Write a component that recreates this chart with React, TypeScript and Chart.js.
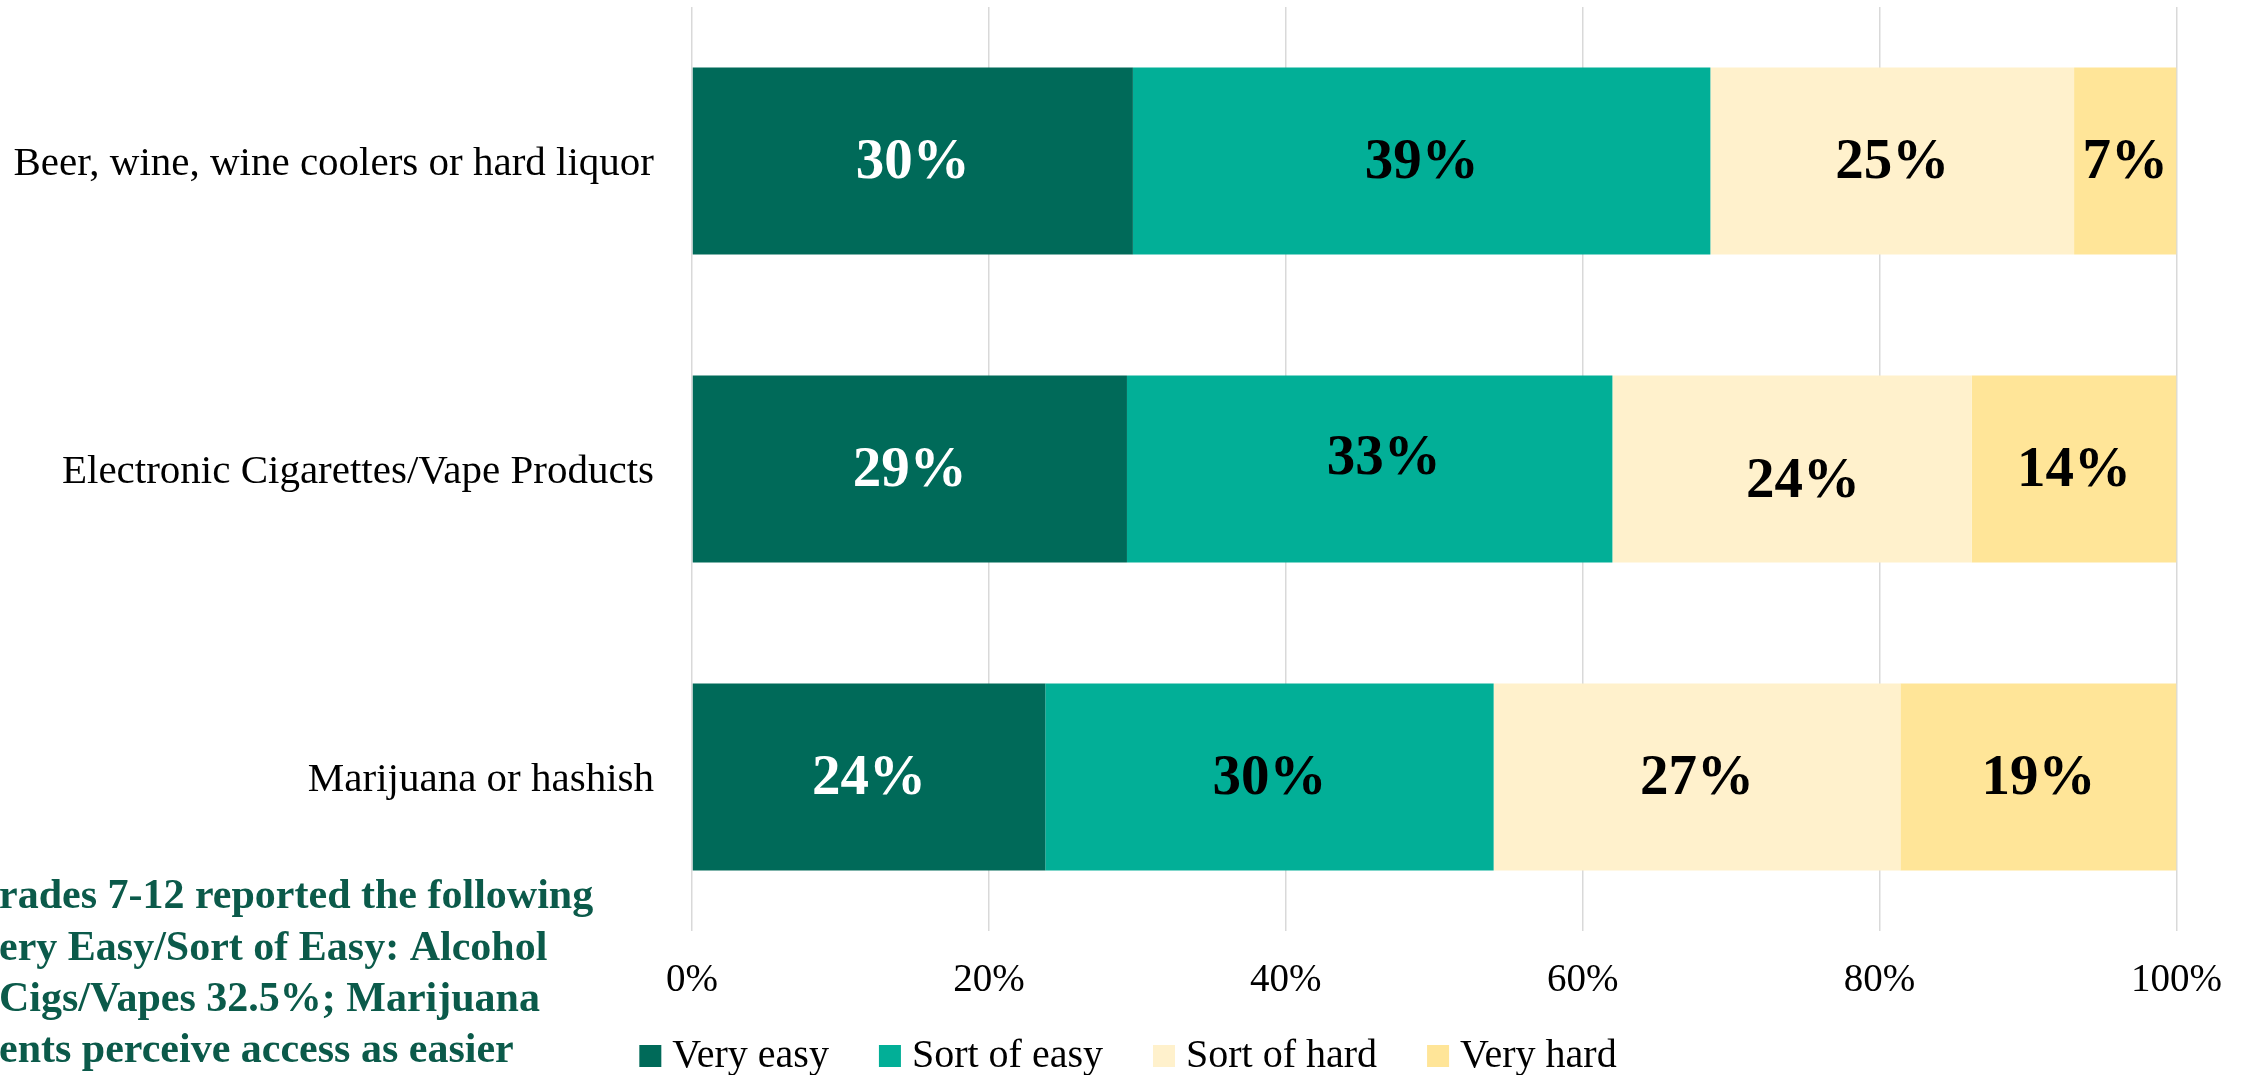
import React, { useEffect, useRef } from "react";
import { Chart, registerables } from "chart.js";

Chart.register(...registerables);

const categories = [
  "Beer, wine, wine coolers or hard liquor",
  "Electronic Cigarettes/Vape Products",
  "Marijuana or hashish",
];
const seriesNames = ["Very easy", "Sort of easy", "Sort of hard", "Very hard"];
const veryEasy = [29.7, 29.3, 23.8];
const sortOfEasy = [38.9, 32.7, 30.2];
const sortOfHard = [24.5, 24.2, 27.4];
const veryHard = [6.9, 13.8, 18.6];
const xTicks = [0, 20, 40, 60, 80, 100];
const noteLines = [
  "rades 7-12 reported the following",
  "ery Easy/Sort of Easy: Alcohol",
  "Cigs/Vapes 32.5%; Marijuana",
  "ents perceive access as easier",
];

const seriesColors = ["#006A59", "#02AF97", "#FFF1CC", "#FFE598"];
const labelColors = ["#FFFFFF", "#000000", "#000000", "#000000"];
const SERIF = "'Liberation Serif', 'Times New Roman', serif";

// Excel nudged two labels in the middle bar
const labelNudge: Record<string, [number, number]> = {
  "1-1": [14, -12],
  "2-1": [11, 11],
};

const dataLabelPlugin = {
  id: "dataLabels",
  afterDatasetsDraw(chart: any) {
    const ctx = chart.ctx;
    ctx.save();
    ctx.font = `bold 57px ${SERIF}`;
    ctx.textAlign = "center";
    ctx.textBaseline = "middle";
    chart.data.datasets.forEach((ds: any, i: number) => {
      const meta = chart.getDatasetMeta(i);
      meta.data.forEach((el: any, j: number) => {
        const v = ds.data[j];
        const nudge = labelNudge[`${i}-${j}`] || [0, 0];
        const cx = (el.x + el.base) / 2 + nudge[0];
        const cy = el.y + nudge[1];
        ctx.fillStyle = labelColors[i];
        ctx.fillText(`${Math.round(v)}%`, cx, cy + 2);
      });
    });
    ctx.restore();
  },
};

const legendPlugin = {
  id: "customLegend",
  afterDraw(chart: any) {
    const ctx = chart.ctx;
    ctx.save();
    ctx.font = `40px ${SERIF}`;
    ctx.textBaseline = "alphabetic";
    ctx.textAlign = "left";
    const box = 22;
    const gap = 11;
    const spacing = 50;
    const items = chart.data.datasets.map((ds: any) => ({
      text: ds.label,
      color: ds.backgroundColor,
      w: box + gap + ctx.measureText(ds.label).width,
    }));
    const total = items.reduce((a: number, it: any) => a + it.w, 0) + spacing * (items.length - 1);
    let x = chart.width / 2 + 4 - total / 2;
    const top = 1045;
    items.forEach((it: any) => {
      ctx.fillStyle = it.color;
      ctx.fillRect(x, top, box, box);
      ctx.fillStyle = "#000000";
      ctx.fillText(it.text, x + box + gap, top + box);
      x += it.w + spacing;
    });
    ctx.restore();
  },
};

const notePlugin = {
  id: "note",
  afterDraw(chart: any) {
    const ctx = chart.ctx;
    ctx.save();
    ctx.font = `bold 42px ${SERIF}`;
    ctx.fillStyle = "#0B5A4A";
    ctx.textAlign = "left";
    ctx.textBaseline = "alphabetic";
    const baselines = [908, 960, 1011, 1062];
    noteLines.forEach((line, k) => {
      ctx.fillText(line, -1, baselines[k]);
    });
    ctx.restore();
  },
};

export default function App() {
  const ref = useRef<HTMLCanvasElement | null>(null);

  useEffect(() => {
    if (!ref.current) return;
    const values = [veryEasy, sortOfEasy, sortOfHard, veryHard];
    const chart = new Chart(ref.current, {
      type: "bar",
      data: {
        labels: categories,
        datasets: seriesNames.map((name, i) => ({
          label: name,
          data: values[i],
          backgroundColor: seriesColors[i],
          borderWidth: 0,
          barPercentage: 0.607,
          categoryPercentage: 1,
        })),
      },
      options: {
        indexAxis: "y",
        animation: false,
        responsive: false,
        maintainAspectRatio: false,
        layout: { padding: { top: 7, right: 70, bottom: 0, left: 0 } },
        plugins: {
          legend: { display: false },
          tooltip: { enabled: false },
          title: { display: false },
        },
        scales: {
          x: {
            stacked: true,
            min: 0,
            max: 100,
            afterBuildTicks: (s: any) => {
              s.ticks = xTicks.map((v) => ({ value: v }));
            },
            afterFit: (s: any) => {
              s.height = 144;
            },
            ticks: {
              padding: 26,
              color: "#000000",
              font: { family: SERIF, size: 39 },
              callback: (v: any) => `${v}%`,
              maxRotation: 0,
            },
            grid: { color: "#D9D9D9", lineWidth: 1.5, drawTicks: false },
            border: { display: false },
          },
          y: {
            stacked: true,
            afterFit: (s: any) => {
              s.width = 692;
              s.paddingTop = 0;
              s.paddingBottom = 0;
            },
            ticks: {
              padding: 38,
              labelOffset: 3,
              color: "#000000",
              font: { family: SERIF, size: 41 },
            },
            grid: { display: false, drawTicks: false },
            border: { display: false },
          },
        },
      },
      plugins: [dataLabelPlugin, legendPlugin, notePlugin],
    } as any);
    return () => chart.destroy();
  }, []);

  return (
    <div
      style={{
        position: "fixed",
        left: 0,
        top: 0,
        width: 2248,
        height: 1075,
        overflow: "hidden",
        background: "#ffffff",
      }}
    >
      <canvas ref={ref} width={2248} height={1075} style={{ width: 2248, height: 1075, display: "block" }} />
    </div>
  );
}
